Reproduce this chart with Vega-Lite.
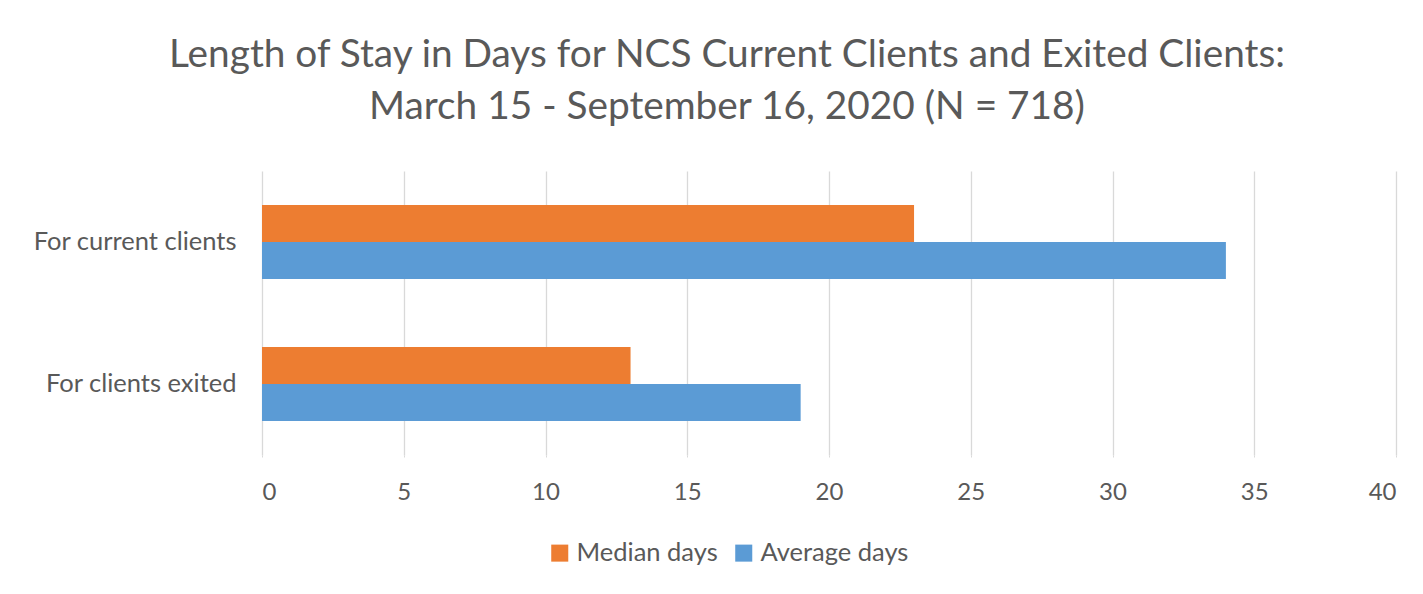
{
  "$schema": "https://vega.github.io/schema/vega-lite/v6.json",
  "autosize": {"type": "none"},
  "padding": {"left": 262, "top": 171, "right": 27, "bottom": 139},
  "width": 1134,
  "height": 284,
  "background": "white",
  "title": {
    "text": ["Length of Stay in Days for NCS Current Clients and Exited Clients:", "March 15 - September 16, 2020 (N = 718)"],
    "anchor": "middle",
    "frame": "group",
    "dx": -102,
    "offset": 44,
    "font": "Lato",
    "fontSize": 38.8,
    "fontWeight": "normal",
    "color": "#595959",
    "lineHeight": 52
  },
  "data": {
    "values": [
      {"group": "For current clients", "series": "Median days", "days": 23},
      {"group": "For current clients", "series": "Average days", "days": 34},
      {"group": "For clients exited", "series": "Median days", "days": 13},
      {"group": "For clients exited", "series": "Average days", "days": 19}
    ]
  },
  "mark": {"type": "bar"},
  "encoding": {
    "y": {
      "field": "group",
      "type": "nominal",
      "sort": ["For current clients", "For clients exited"],
      "scale": {"paddingInner": 0.48, "paddingOuter": 0.24},
      "axis": {
        "title": null,
        "ticks": false,
        "domain": false,
        "labelFont": "Lato",
        "labelFontSize": 25.5,
        "labelColor": "#595959",
        "labelPadding": 26,
        "labelLimit": 400
      }
    },
    "yOffset": {
      "field": "series",
      "type": "nominal",
      "sort": ["Median days", "Average days"]
    },
    "x": {
      "field": "days",
      "type": "quantitative",
      "scale": {"domain": [0, 40]},
      "axis": {
        "title": null,
        "values": [0, 5, 10, 15, 20, 25, 30, 35, 40],
        "domain": false,
        "ticks": true,
        "tickSize": 2,
        "tickColor": "#d9d9d9",
        "gridColor": "#d9d9d9",
        "gridWidth": 1.3,
        "labelFont": "Lato",
        "labelFontSize": 24,
        "labelColor": "#595959",
        "labelPadding": 23
      }
    },
    "color": {
      "field": "series",
      "type": "nominal",
      "scale": {"domain": ["Median days", "Average days"], "range": ["#ED7D31", "#5B9BD5"]},
      "legend": {
        "title": null,
        "orient": "none",
        "direction": "horizontal",
        "legendX": 285,
        "legendY": 369,
        "symbolType": "square",
        "symbolSize": 290,
        "symbolStrokeWidth": 0,
        "symbolOffset": 0,
        "labelFont": "Lato",
        "labelFontSize": 25.5,
        "labelColor": "#595959",
        "labelOffset": 4,
        "columnPadding": 13
      }
    }
  },
  "config": {"view": {"stroke": null}}
}
